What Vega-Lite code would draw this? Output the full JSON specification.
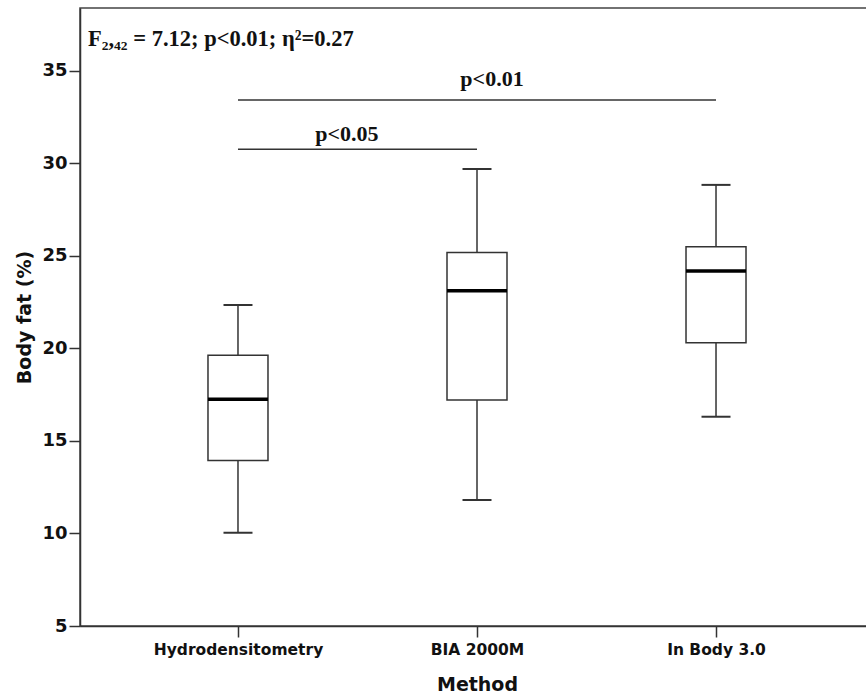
{
  "$schema": "https://vega.github.io/schema/vega-lite/v6.json",
  "width": 794,
  "height": 618,
  "autosize": {"type": "none"},
  "padding": {"left": 80, "top": 8, "right": 0, "bottom": 74},
  "background": "white",
  "config": {
    "view": {"stroke": "#444", "strokeWidth": 1.5},
    "axis": {"grid": false, "domainColor": "#333", "domainWidth": 1.5, "tickColor": "#333", "tickWidth": 1.5, "tickSize": 11, "labelColor": "#111", "titleColor": "#111", "labelFont": "DejaVu Sans", "titleFont": "DejaVu Sans", "labelFontWeight": "bold", "titleFontWeight": "bold"}
  },
  "datasets": {
    "boxes": [
      {"method": "Hydrodensitometry", "min": 10.04, "q1": 13.94, "median": 17.25, "q3": 19.63, "max": 22.35},
      {"method": "BIA 2000M", "min": 11.81, "q1": 17.22, "median": 23.12, "q3": 25.18, "max": 29.7},
      {"method": "In Body 3.0", "min": 16.31, "q1": 20.31, "median": 24.19, "q3": 25.5, "max": 28.84}
    ],
    "sig01": [{"from": "Hydrodensitometry", "to": "In Body 3.0", "y": 33.43, "label": "p<0.01", "at": "BIA 2000M"}],
    "sig05": [{"from": "Hydrodensitometry", "to": "BIA 2000M", "y": 30.77, "label": "p<0.05", "at": "Hydrodensitometry"}],
    "stat": [{"at": "Hydrodensitometry", "y": 36.35, "label": "F₂,₄₂ = 7.12; p<0.01; η²=0.27"}]
  },
  "encoding": {
    "x": {"field": "method", "type": "nominal", "sort": ["Hydrodensitometry", "BIA 2000M", "In Body 3.0"],
      "scale": {"type": "point", "padding": 0.661, "domain": ["Hydrodensitometry", "BIA 2000M", "In Body 3.0"]},
      "axis": {"title": "Method", "labelAngle": 0, "labelFontSize": 15.5, "titleFontSize": 19, "labelPadding": 5, "titlePadding": 18}}
  },
  "layer": [
    {
      "data": {"name": "boxes"},
      "mark": {"type": "rule", "color": "#333", "strokeWidth": 1.5},
      "encoding": {
        "y": {"field": "min", "type": "quantitative",
          "scale": {"domain": [5, 38.4], "nice": false, "zero": false},
          "axis": {"title": "Body fat (%)", "values": [5, 10, 15, 20, 25, 30, 35], "labelFontSize": 18, "titleFontSize": 19, "labelPadding": 2, "titlePadding": 7}},
        "y2": {"field": "max"}
      }
    },
    {
      "data": {"name": "boxes"},
      "mark": {"type": "bar", "size": 60, "fill": "white", "stroke": "#333", "strokeWidth": 1.5},
      "encoding": {"y": {"field": "q1", "type": "quantitative"}, "y2": {"field": "q3"}}
    },
    {
      "data": {"name": "boxes"},
      "mark": {"type": "tick", "size": 60, "thickness": 3.5, "color": "#000", "opacity": 1, "orient": "horizontal"},
      "encoding": {"y": {"field": "median", "type": "quantitative"}}
    },
    {
      "data": {"name": "boxes"},
      "mark": {"type": "tick", "size": 29, "thickness": 2, "color": "#333", "opacity": 1, "orient": "horizontal"},
      "encoding": {"y": {"field": "max", "type": "quantitative"}}
    },
    {
      "data": {"name": "boxes"},
      "mark": {"type": "tick", "size": 29, "thickness": 2, "color": "#333", "opacity": 1, "orient": "horizontal"},
      "encoding": {"y": {"field": "min", "type": "quantitative"}}
    },
    {
      "data": {"name": "sig01"},
      "mark": {"type": "rule", "color": "#333", "strokeWidth": 1.5},
      "encoding": {"x": {"field": "from", "type": "nominal"}, "x2": {"field": "to"}, "y": {"field": "y", "type": "quantitative"}}
    },
    {
      "data": {"name": "sig05"},
      "mark": {"type": "rule", "color": "#333", "strokeWidth": 1.5},
      "encoding": {"x": {"field": "from", "type": "nominal"}, "x2": {"field": "to"}, "y": {"field": "y", "type": "quantitative"}}
    },
    {
      "data": {"name": "sig01"},
      "mark": {"type": "text", "font": "Liberation Serif", "fontWeight": "bold", "fontSize": 22, "color": "#111", "baseline": "alphabetic", "align": "center", "dx": 15, "dy": -14},
      "encoding": {"x": {"field": "at", "type": "nominal"}, "y": {"field": "y", "type": "quantitative"}, "text": {"field": "label"}}
    },
    {
      "data": {"name": "sig05"},
      "mark": {"type": "text", "font": "Liberation Serif", "fontWeight": "bold", "fontSize": 22, "color": "#111", "baseline": "alphabetic", "align": "center", "dx": 109, "dy": -8},
      "encoding": {"x": {"field": "at", "type": "nominal"}, "y": {"field": "y", "type": "quantitative"}, "text": {"field": "label"}}
    },
    {
      "data": {"name": "stat"},
      "mark": {"type": "text", "font": "Liberation Serif", "fontWeight": "bold", "fontSize": 22.5, "color": "#111", "baseline": "alphabetic", "align": "left", "dx": -150},
      "encoding": {"x": {"field": "at", "type": "nominal"}, "y": {"field": "y", "type": "quantitative"}, "text": {"field": "label"}}
    }
  ]
}
